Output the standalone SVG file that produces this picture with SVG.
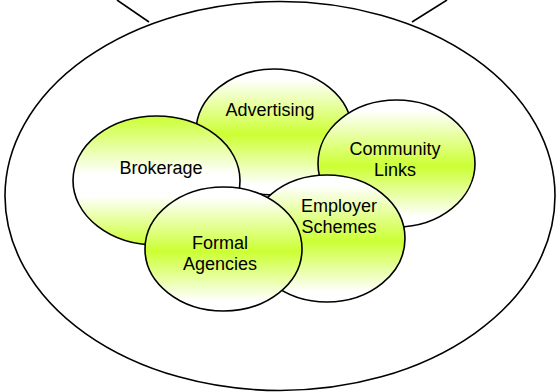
<svg xmlns="http://www.w3.org/2000/svg" width="557" height="392" viewBox="0 0 557 392">
  <style>
    .outline { fill: #ffffff; stroke: #000000; stroke-width: 1.6; }
    .bubble { stroke: #000000; stroke-width: 1.6; }
    .fill-mid { fill: url(#gradMid); }
    .fill-edge { fill: url(#gradEdge); }
    .label { font-family: "Liberation Sans", Arial, sans-serif; font-size: 18px; fill: #000000; text-anchor: middle; }
    .link { stroke: #000000; stroke-width: 1.6; fill: none; }
  </style>
  <defs>
    <!-- white at top and bottom, lime band through the middle -->
    <linearGradient id="gradMid" x1="0" y1="0" x2="0" y2="1">
      <stop offset="0" stop-color="#ffffff"/>
      <stop offset="0.08" stop-color="#ffffff"/>
      <stop offset="0.52" stop-color="#ccff33"/>
      <stop offset="0.92" stop-color="#ffffff"/>
      <stop offset="1" stop-color="#ffffff"/>
    </linearGradient>
    <!-- lime at top and bottom, white through the middle -->
    <linearGradient id="gradEdge" x1="0" y1="0" x2="0" y2="1">
      <stop offset="0" stop-color="#ccff33"/>
      <stop offset="0.45" stop-color="#ffffff"/>
      <stop offset="0.62" stop-color="#ffffff"/>
      <stop offset="1" stop-color="#ccff33"/>
    </linearGradient>
  </defs>

  <g id="container">
    <ellipse class="outline" cx="280" cy="196" rx="275" ry="194.5"/>
  </g>

  <g id="connectors">
    <line class="link" x1="117" y1="0" x2="149" y2="22"/>
    <line class="link" x1="447" y1="0" x2="412" y2="22"/>
  </g>

  <g id="advertising">
    <ellipse class="bubble fill-mid" cx="274" cy="132" rx="78" ry="63"/>
    <text class="label" x="270" y="116">Advertising</text>
  </g>

  <g id="brokerage">
    <ellipse class="bubble fill-edge" cx="156.5" cy="180.5" rx="83.5" ry="64.5"/>
    <text class="label" x="161" y="174">Brokerage</text>
  </g>

  <g id="community-links">
    <ellipse class="bubble fill-mid" cx="396.5" cy="163.5" rx="78.5" ry="63.5"/>
    <text class="label" x="395" y="155">Community</text>
    <text class="label" x="395" y="176">Links</text>
  </g>

  <g id="employer-schemes">
    <ellipse class="bubble fill-mid" cx="327" cy="238.5" rx="78" ry="63.5"/>
    <text class="label" x="339" y="212">Employer</text>
    <text class="label" x="339" y="233">Schemes</text>
  </g>

  <g id="formal-agencies">
    <ellipse class="bubble fill-mid" cx="223.5" cy="249" rx="78.5" ry="62"/>
    <text class="label" x="220" y="249">Formal</text>
    <text class="label" x="220" y="270">Agencies</text>
  </g>
</svg>
